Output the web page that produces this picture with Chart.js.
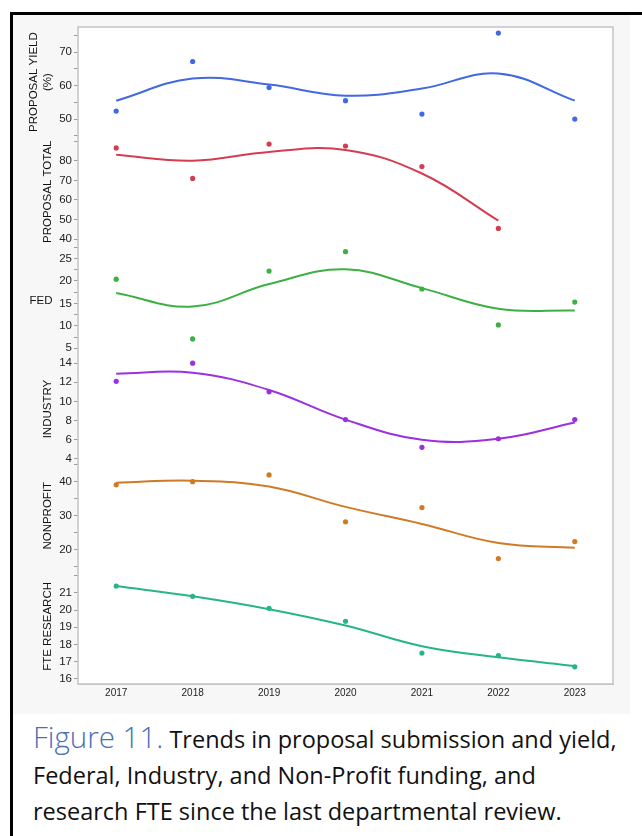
<!DOCTYPE html>
<html>
<head>
<meta charset="utf-8">
<script src="https://cdn.jsdelivr.net/npm/chart.js@4"></script>
<style>
  body { margin: 0; background: #fff; width: 642px; height: 836px; position: relative; overflow: hidden; }
  #topline { position: absolute; left: 10px; top: 12px; width: 632px; height: 3px; background: #000; }
  #leftline { position: absolute; left: 10px; top: 12px; width: 3px; height: 824px; background: #000; }
  #panel { position: absolute; left: 13px; top: 15px; width: 617px; height: 699px; background: #f7f7f7; }
  #caption { position: absolute; left: 33px; top: 719px; width: 605px; white-space: nowrap; font-family: "Open Sans", Lato, sans-serif; font-size: 23.5px; line-height: 36px; color: #111; }
  #caption .fig { color: #4a6fb5; font-size: 29.5px; font-weight: 300; }
</style>
</head>
<body>
<div id="topline"></div>
<div id="leftline"></div>
<div id="panel"><canvas id="chart" width="617" height="699"></canvas></div>
<div id="caption"><span class="fig">Figure 11.</span> Trends in proposal submission and yield,<br>Federal, Industry, and Non-Profit funding, and<br>research FTE since the last departmental review.</div>
<script>
const years = [2017, 2018, 2019, 2020, 2021, 2022, 2023];

const yieldPts = [52.4, 67.2, 59.4, 55.5, 51.5, 75.7, 50.0];
const yieldFit = [55.5, 62.1, 60.3, 57.0, 59.1, 63.6, 55.5];

const totalPts = [86.5, 71.0, 88.5, 87.5, 77.0, 45.5, null];
const totalFit = [83.0, 80.0, 84.5, 85.5, 73.5, 49.5, null];

const fedPts = [20.4, 7.1, 22.2, 26.5, 18.2, 10.2, 15.3];
const fedFit = [17.3, 14.3, 19.3, 22.6, 18.4, 13.8, 13.4];

const industryPts = [12.1, 14.0, 11.0, 8.1, 5.2, 6.1, 8.1];
const industryFit = [12.9, 13.0, 11.2, 8.1, 6.0, 6.1, 7.8];

const nonprofitPts = [39.1, 40.0, 42.0, 28.2, 32.4, 17.4, 22.4];
const nonprofitFit = [39.7, 40.3, 38.6, 32.6, 27.6, 22.0, 20.6];

const ftePts = [21.4, 20.8, 20.1, 19.35, 17.5, 17.35, 16.7];
const fteFit = [21.4, 20.8, 20.05, 19.1, 17.9, 17.25, 16.75];

// top to bottom
const panels = [
  { id: 'yYield', title: ['PROPOSAL YIELD', '(%)'], pts: yieldPts, fit: yieldFit, color: '#4169e1',
    min: 44.6, max: 77.5, step: 5, labels: [50, 60, 70], weight: 110 },
  { id: 'yTotal', title: ['PROPOSAL TOTAL'], pts: totalPts, fit: totalFit, color: '#d43d51',
    min: 36.4, max: 92, step: 10, labels: [40, 50, 60, 70, 80], weight: 109 },
  { id: 'yFed', title: ['FED'], pts: fedPts, fit: fedFit, color: '#3cb043', horizontal: true,
    min: 3.4, max: 27.7, step: 2.5, labels: [5, 10, 15, 20, 25], weight: 109 },
  { id: 'yInd', title: ['INDUSTRY'], pts: industryPts, fit: industryFit, color: '#9b30e0',
    min: 3.6, max: 14.8, step: 2, labels: [4, 6, 8, 10, 12, 14], weight: 107 },
  { id: 'yNon', title: ['NONPROFIT'], pts: nonprofitPts, fit: nonprofitFit, color: '#d07a26',
    min: 14.4, max: 45.6, step: 5, labels: [20, 30, 40], weight: 106 },
  { id: 'yFte', title: ['FTE RESEARCH'], pts: ftePts, fit: fteFit, color: '#26b58a',
    min: 15.7, max: 22.4, step: 1, labels: [16, 17, 18, 19, 20, 21], weight: 115 }
];

function toXY(vals) {
  return years.map((y, i) => ({ x: y, y: vals[i] })).filter(p => p.y !== null);
}

const datasets = [];
panels.forEach(p => {
  datasets.push({
    type: 'line', data: toXY(p.fit), yAxisID: p.id, borderColor: p.color,
    borderWidth: 2, pointRadius: 0, tension: 0.4, fill: false
  });
  datasets.push({
    type: 'scatter', data: toXY(p.pts), yAxisID: p.id, backgroundColor: p.color,
    borderColor: p.color, pointRadius: 2.6, borderWidth: 0
  });
});

const tickFont = { family: 'Liberation Sans, Arial, sans-serif', size: 11.5 };

const scales = {
  x: {
    type: 'linear', position: 'bottom', min: 2016.5, max: 2023.5,
    afterBuildTicks: s => { s.ticks = years.map(v => ({ value: v })); },
    ticks: { autoSkip: false, maxRotation: 0, padding: 3, color: '#222',
      font: { family: 'Liberation Sans, Arial, sans-serif', size: 10 },
      callback: v => String(v) },
    grid: { drawOnChartArea: false, drawTicks: false },
    border: { color: '#c4c4c4' }
  }
};
// stacked axes are laid out bottom-up, so add them in reverse
panels.slice().reverse().forEach(p => {
  scales[p.id] = {
    type: 'linear', position: 'left', stack: 'panels', stackWeight: p.weight,
    min: p.min, max: p.max,
    ticks: { stepSize: p.step, includeBounds: false, autoSkip: false, color: '#222', font: tickFont, padding: 2,
      callback: v => p.labels.includes(v) ? String(v) : '' },
    grid: { drawOnChartArea: false, drawTicks: true, tickLength: 4, color: '#9a9a9a' },
    border: { color: '#b0b0b0' },
    afterFit: s => { s.width = 40; }
  };
});

const frameAndTitles = {
  id: 'frameAndTitles',
  beforeDatasetsDraw(chart) {
    const { ctx, chartArea: a } = chart;
    ctx.save();
    ctx.fillStyle = '#fff';
    ctx.fillRect(a.left, a.top, a.right - a.left, a.bottom - a.top);
    ctx.restore();
  },
  afterDraw(chart) {
    const { ctx, chartArea: a } = chart;
    ctx.save();
    ctx.strokeStyle = '#c4c4c4';
    ctx.lineWidth = 1.5;
    ctx.strokeRect(a.left, a.top, a.right - a.left, a.bottom - a.top);
    ctx.fillStyle = '#111';
    ctx.font = '11.5px "Liberation Sans", Arial, sans-serif';
    ctx.textAlign = 'center';
    ctx.textBaseline = 'middle';
    panels.forEach(p => {
      const s = chart.scales[p.id];
      const cy = (s.top + s.bottom) / 2;
      if (p.horizontal) {
        ctx.fillText(p.title[0], 28, cy);
        return;
      }
      const n = p.title.length;
      ctx.save();
      ctx.translate(35 - (n - 1) * 14, cy);
      ctx.rotate(-Math.PI / 2);
      p.title.forEach((t, i) => ctx.fillText(t, 0, i * 14));
      ctx.restore();
    });
    ctx.restore();
  }
};

new Chart(document.getElementById('chart'), {
  data: { datasets: datasets },
  options: {
    responsive: false,
    animation: false,
    layout: { padding: { left: 25, top: 12, right: 17, bottom: 12 } },
    plugins: { legend: { display: false }, tooltip: { enabled: false } },
    scales: scales
  },
  plugins: [frameAndTitles]
});
</script>
</body>
</html>
